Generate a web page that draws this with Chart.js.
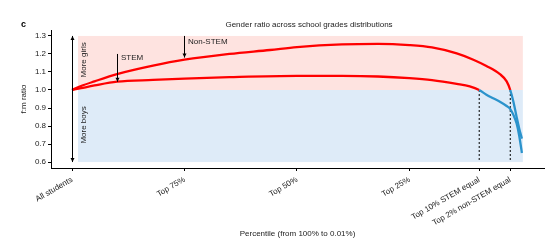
<!DOCTYPE html>
<html><head><meta charset="utf-8">
<script src="https://cdn.jsdelivr.net/npm/chart.js@4.4.1/dist/chart.umd.min.js"></script>
<style>html,body{margin:0;padding:0;background:#fff;}#wrap{width:551px;height:243px;position:relative;}</style>
</head><body><div id="wrap"><canvas id="c" width="551" height="243"></canvas></div>
<script>
// ---- data (x = 100 - percentile kept, i.e. 0 = all students, ~100 = top 0.01%)
const tickValues = [0, 25, 50, 75, 90.5, 97.4];
const tickLabels = ['All students', 'Top 75%', 'Top 50%', 'Top 25%', 'Top 10% STEM equal', 'Top 2% non-STEM equal'];
const yTicks = [0.6, 0.7, 0.8, 0.9, 1.0, 1.1, 1.2, 1.3];

const nonStemX = [0, 2, 5, 10, 18, 25, 35, 44, 50, 60, 68, 75, 80, 85.5, 89.2, 92.1, 95.1, 96.6, 97.4, 98.1, 98.8, 99.4, 99.99];
const nonStemY = [1.0, 1.022, 1.048, 1.088, 1.135, 1.168, 1.2, 1.222, 1.238, 1.253, 1.256, 1.249, 1.236, 1.203, 1.168, 1.133, 1.088, 1.048, 1.0, 0.935, 0.852, 0.785, 0.73];

const stemX = [0, 2, 5, 10, 18, 25, 35, 50, 60, 68, 75, 80, 85.5, 88.4, 90.5, 92.1, 93.6, 95.1, 96.6, 97.4, 98.1, 98.8, 99.4, 99.99];
const stemY = [1.0, 1.01, 1.025, 1.046, 1.056, 1.063, 1.071, 1.078, 1.078, 1.075, 1.066, 1.055, 1.034, 1.02, 1.0, 0.974, 0.954, 0.935, 0.911, 0.894, 0.862, 0.815, 0.745, 0.65];

const equalX = [90.5, 97.4];     // where ratio reaches 1.0
const bandX = [1.33, 100.2];      // extent of shaded regions
const bandGirls = [1.0, 1.3];
const bandBoys = [0.6, 1.0];

const RED = '#ff0000', BLUE = '#2b93cc', PINK = '#fee3e0', LBLUE = '#deebf8', TXT = '#222';
const FONT = '"Liberation Sans", Arial, Helvetica, sans-serif';

const segColor = c => (c.p1.parsed.y < 0.9999 ? BLUE : RED);
const pts = (xs, ys) => xs.map((x, i) => ({x, y: ys[i]}));

function arrow(ctx, x, y0, y1, head0, head1) {
  ctx.save();
  ctx.strokeStyle = '#000'; ctx.fillStyle = '#000'; ctx.lineWidth = 1;
  const px = Math.round(x) + 0.5;
  ctx.beginPath(); ctx.moveTo(px, y0); ctx.lineTo(px, y1); ctx.stroke();
  const head = (yy, dir) => { ctx.beginPath(); ctx.moveTo(px, yy); ctx.lineTo(px - 2, yy - dir * 4); ctx.lineTo(px + 2, yy - dir * 4); ctx.closePath(); ctx.fill(); };
  if (head0) head(y0, y0 < y1 ? -1 : 1);
  if (head1) head(y1, y1 > y0 ? 1 : -1);
  ctx.restore();
}

const annot = {
  id: 'annot',
  beforeDatasetsDraw(chart) {
    const {ctx, scales: {x, y}} = chart;
    const x0 = x.getPixelForValue(bandX[0]), x1 = x.getPixelForValue(bandX[1]);
    ctx.save();
    ctx.fillStyle = PINK;
    ctx.fillRect(x0, y.getPixelForValue(bandGirls[1]), x1 - x0, y.getPixelForValue(bandGirls[0]) - y.getPixelForValue(bandGirls[1]));
    ctx.fillStyle = LBLUE;
    ctx.fillRect(x0, y.getPixelForValue(bandBoys[1]), x1 - x0, y.getPixelForValue(bandBoys[0]) - y.getPixelForValue(bandBoys[1]));
    ctx.restore();
  },
  afterDatasetsDraw(chart) {
    const {ctx, scales: {x, y}} = chart;
    arrow(ctx, x.getPixelForValue(0), y.getPixelForValue(1.3), y.getPixelForValue(0.6), true, true);
    arrow(ctx, x.getPixelForValue(10), y.getPixelForValue(1.2), y.getPixelForValue(1.046), false, true);
    arrow(ctx, x.getPixelForValue(25), y.getPixelForValue(1.3), y.getPixelForValue(1.18), false, true);
    ctx.save();
    ctx.fillStyle = TXT;
    ctx.font = '8px ' + FONT;
    ctx.textBaseline = 'middle'; ctx.textAlign = 'left';
    ctx.fillText('STEM', x.getPixelForValue(10) + 4, y.getPixelForValue(1.178));
    ctx.fillText('Non-STEM', x.getPixelForValue(25) + 3.5, y.getPixelForValue(1.268));
    ctx.textAlign = 'center';
    const rot = (t, xv, yv) => { ctx.save(); ctx.translate(x.getPixelForValue(xv), y.getPixelForValue(yv)); ctx.rotate(-Math.PI / 2); ctx.fillText(t, 0, 0); ctx.restore(); };
    rot('More girls', 2.67, 1.167);
    rot('More boys', 2.67, 0.806);
    ctx.restore();
  },
  afterDraw(chart) {
    const ctx = chart.ctx;
    ctx.save();
    ctx.fillStyle = '#000';
    ctx.font = 'bold 9px ' + FONT;
    ctx.textBaseline = 'alphabetic'; ctx.textAlign = 'left';
    ctx.fillText('c', 21, 27);
    ctx.fillStyle = TXT;
    ctx.font = '8px ' + FONT;
    ctx.textAlign = 'center';
    ctx.fillText('Gender ratio across school grades distributions', 309, 27);
    ctx.restore();
  }
};

new Chart(document.getElementById('c'), {
  type: 'line',
  data: {
    datasets: [
      {label: 'Non-STEM', data: pts(nonStemX, nonStemY), borderColor: RED, borderWidth: 2.3, pointRadius: 0, cubicInterpolationMode: 'monotone', segment: {borderColor: segColor}},
      {label: 'STEM', data: pts(stemX, stemY), borderColor: RED, borderWidth: 2.3, pointRadius: 0, cubicInterpolationMode: 'monotone', segment: {borderColor: segColor}},
      {label: 'STEM equal', data: [{x: equalX[0], y: 1.0}, {x: equalX[0], y: 0.6}], borderColor: '#000', borderWidth: 1, borderDash: [2, 2], pointRadius: 0},
      {label: 'non-STEM equal', data: [{x: equalX[1], y: 1.0}, {x: equalX[1], y: 0.6}], borderColor: '#000', borderWidth: 1, borderDash: [2, 2], pointRadius: 0}
    ]
  },
  options: {
    responsive: false, animation: false, devicePixelRatio: 1,
    layout: {padding: {top: 30, right: 7, left: 0, bottom: 0}},
    plugins: {legend: {display: false}, tooltip: {enabled: false}},
    scales: {
      x: {
        type: 'linear', min: -4.67, max: 104.9,
        afterBuildTicks: s => { s.ticks = tickValues.map(v => ({value: v})); },
        afterFit: s => { s.height = 75; },
        grid: {display: true, drawOnChartArea: false, drawTicks: true, tickLength: 3, color: '#000'},
        border: {display: true, color: '#000', width: 1},
        ticks: {autoSkip: false, minRotation: 30, maxRotation: 30, padding: 4, color: TXT, font: {family: FONT, size: 8}, callback: (v, i) => tickLabels[i]},
        title: {display: true, text: 'Percentile (from 100% to 0.01%)', color: TXT, font: {family: FONT, size: 8}, padding: {top: 0, bottom: 4}}
      },
      y: {
        min: 0.567, max: 1.333,
        afterBuildTicks: s => { s.ticks = yTicks.map(v => ({value: v})); },
        afterFit: s => { s.width = 51; },
        grid: {display: true, drawOnChartArea: false, drawTicks: true, tickLength: 3, color: '#000'},
        border: {display: true, color: '#000', width: 1},
        ticks: {padding: 2, color: TXT, font: {family: FONT, size: 8}, callback: v => Number(v).toFixed(1)},
        title: {display: true, text: 'f:m ratio', color: TXT, font: {family: FONT, size: 8}, padding: {top: 19, bottom: 0}}
      }
    }
  },
  plugins: [annot]
});
</script>
</body></html>
